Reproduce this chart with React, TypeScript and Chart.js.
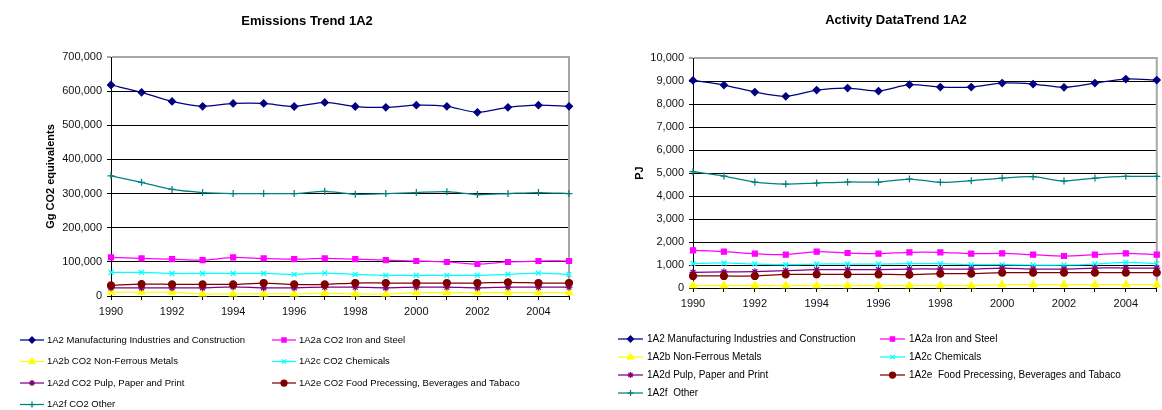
import React, { useEffect, useRef } from 'react';
import { Chart, registerables } from 'chart.js';
import { drawPoint } from 'chart.js/helpers';

Chart.register(...registerables);

const FONT = "'Liberation Sans', Arial, sans-serif";

// ---------- shared categories ----------
const years = ['1990', '1991', '1992', '1993', '1994', '1995', '1996', '1997', '1998', '1999', '2000', '2001', '2002', '2003', '2004', '2005'];

// ---------- Emissions Trend 1A2 (Gg CO2 equivalents) ----------
const emTitle = 'Emissions Trend 1A2';
const emAxisTitle = 'Gg CO2 equivalents';
const emLabels = [
  '1A2 Manufacturing Industries and Construction',
  '1A2a CO2 Iron and Steel',
  '1A2b CO2 Non-Ferrous Metals',
  '1A2c CO2 Chemicals',
  '1A2d CO2 Pulp, Paper and Print',
  '1A2e CO2 Food Precessing, Beverages and Tabaco',
  '1A2f CO2 Other',
];
const emManufacturing = [618000, 596500, 570000, 555500, 564000, 564000, 555000, 567000, 555000, 552500, 559000, 555500, 538000, 552500, 559000, 555500];
const emIronSteel = [113000, 110000, 108000, 105000, 113000, 110000, 108000, 110000, 108000, 105000, 102500, 99600, 93700, 99600, 102500, 102500];
const emNonFerrous = [11000, 11000, 11000, 6000, 6000, 6000, 6000, 8000, 6000, 6000, 10000, 10000, 10000, 10000, 10000, 10000];
const emChemicals = [69000, 69000, 66000, 66000, 66000, 66000, 63500, 67000, 63500, 60500, 60500, 60500, 60500, 63500, 67000, 63500];
const emPulp = [24000, 24000, 24000, 24000, 27000, 24000, 24000, 26000, 26000, 24000, 26000, 26000, 24000, 26000, 26000, 26000];
const emFood = [31000, 35000, 34000, 34000, 34000, 38000, 34000, 34000, 38000, 38000, 38000, 38000, 38000, 40000, 38000, 38000];
const emOther = [352000, 333000, 312000, 303000, 300000, 300000, 300000, 306500, 298000, 300000, 303000, 305500, 297000, 300000, 303000, 300000];
const emMax = 700000;
const emStep = 100000;

// ---------- Activity DataTrend 1A2 (PJ) ----------
const adTitle = 'Activity DataTrend 1A2';
const adAxisTitle = 'PJ';
const adLabels = [
  '1A2 Manufacturing Industries and Construction',
  '1A2a Iron and Steel',
  '1A2b Non-Ferrous Metals',
  '1A2c Chemicals',
  '1A2d Pulp, Paper and Print',
  '1A2e  Food Precessing, Beverages and Tabaco',
  '1A2f  Other',
];
const adManufacturing = [9027, 8825, 8520, 8332, 8607, 8694, 8564, 8839, 8738, 8738, 8911, 8868, 8723, 8911, 9085, 9042];
const adIronSteel = [1637, 1579, 1492, 1449, 1579, 1521, 1492, 1550, 1550, 1492, 1507, 1449, 1391, 1449, 1507, 1449];
const adNonFerrous = [101, 101, 101, 101, 101, 101, 101, 101, 101, 101, 145, 145, 145, 145, 145, 145];
const adChemicals = [1058, 1087, 1043, 1014, 1043, 1043, 1043, 1058, 1058, 1014, 1014, 1000, 1000, 1043, 1116, 1058];
const adPulp = [681, 696, 710, 753, 797, 797, 797, 826, 826, 826, 869, 826, 826, 869, 869, 869];
const adFood = [522, 522, 522, 594, 594, 594, 594, 580, 623, 623, 667, 667, 667, 667, 667, 667];
const adOther = [5057, 4869, 4608, 4521, 4564, 4608, 4608, 4738, 4593, 4666, 4782, 4840, 4651, 4782, 4854, 4854];
const adMax = 10000;
const adStep = 1000;

// ---------- series styles ----------
const seriesColors = ['#000080', '#FF00FF', '#FFFF00', '#00FFFF', '#800080', '#800000', '#008080'];
const seriesMarkers = ['rectRot', 'rect', 'triangle', 'crossRot', 'star', 'circle', 'cross'];
const seriesRadius = [3.5, 3.5, 4, 3.5, 3.5, 3.5, 3.5];

type Layout = {
  canvasWidth: number;
  yAxisWidth: number;
  padRight: number;
  padTop: number;
  xAxisHeight: number;
  yTitlePad: number;
  titleX: number;
  titleY: number;
  legendCols: number[];
  legendRows: number[];
  legendLine: number;
  legendTextGap: number;
  legendFont: number;
};

const titlePlugin = {
  id: 'customTitle',
  afterDraw(chart: any, _args: any, opts: any) {
    const ctx = chart.ctx;
    ctx.save();
    ctx.font = `bold 13px ${FONT}`;
    ctx.fillStyle = '#000';
    ctx.textAlign = 'center';
    ctx.textBaseline = 'middle';
    ctx.fillText(opts.text, opts.x, opts.y);
    ctx.restore();
  },
};

const frameAndLegendPlugin = {
  id: 'frameLegend',
  beforeDatasetsDraw(chart: any) {
    const { ctx, chartArea } = chart;
    ctx.save();
    ctx.strokeStyle = '#a6a6a6';
    ctx.lineWidth = 2;
    ctx.beginPath();
    ctx.moveTo(chartArea.right, chartArea.top - 1);
    ctx.lineTo(chartArea.right, chartArea.bottom);
    ctx.stroke();
    ctx.restore();
  },
  afterDraw(chart: any, _args: any, opts: any) {
    const ctx = chart.ctx;
    ctx.save();
    chart.data.datasets.forEach((ds: any, i: number) => {
      const x0 = opts.cols[i % 2];
      const y = opts.rows[Math.floor(i / 2)];
      ctx.strokeStyle = ds.borderColor;
      ctx.lineWidth = 1.25;
      ctx.beginPath();
      ctx.moveTo(x0, y);
      ctx.lineTo(x0 + opts.line, y);
      ctx.stroke();
      ctx.fillStyle = ds.pointBackgroundColor;
      ctx.strokeStyle = ds.pointBorderColor;
      ctx.lineWidth = 1.25;
      drawPoint(ctx, { pointStyle: ds.pointStyle, rotation: 0, radius: ds.pointRadius - 0.5, borderWidth: 1.25 }, x0 + opts.line / 2, y);
      ctx.fillStyle = '#000';
      ctx.font = `${opts.font}px ${FONT}`;
      ctx.textAlign = 'left';
      ctx.textBaseline = 'middle';
      ctx.fillText(ds.label, x0 + opts.line + opts.gap, y);
    });
    ctx.restore();
  },
};

function TrendChart(props: {
  title: string;
  axisTitle: string;
  labels: string[];
  series: number[][];
  max: number;
  step: number;
  layout: Layout;
  left: number;
}) {
  const ref = useRef<HTMLCanvasElement | null>(null);
  useEffect(() => {
    if (!ref.current) return;
    const L = props.layout;
    const datasets = props.series.map((data, i) => ({
      label: props.labels[i],
      data,
      borderColor: seriesColors[i],
      backgroundColor: seriesColors[i],
      pointBackgroundColor: seriesColors[i],
      pointBorderColor: seriesColors[i],
      pointStyle: seriesMarkers[i],
      pointRadius: seriesRadius[i],
      pointBorderWidth: 1.25,
      borderWidth: 1.25,
      tension: 0.25,
      clip: false as any,
      order: props.series.length - i,
    }));
    const chart = new Chart(ref.current, {
      type: 'line',
      data: { labels: years, datasets },
      plugins: [titlePlugin, frameAndLegendPlugin],
      options: {
        responsive: false,
        animation: false,
        devicePixelRatio: 1,
        layout: { padding: { left: 0, right: L.padRight, top: L.padTop, bottom: 0 } },
        font: { family: FONT },
        plugins: {
          legend: { display: false },
          title: { display: false },
          tooltip: { enabled: false },
          customTitle: { text: props.title, x: L.titleX, y: L.titleY },
          frameLegend: { cols: L.legendCols, rows: L.legendRows, line: L.legendLine, gap: L.legendTextGap, font: L.legendFont },
        } as any,
        scales: {
          x: {
            type: 'category',
            offset: false,
            grid: { display: true, drawOnChartArea: false, drawTicks: true, tickLength: 4, color: '#000' },
            border: { display: true, color: '#000', width: 1 },
            ticks: {
              autoSkip: false,
              maxRotation: 0,
              minRotation: 0,
              padding: 5,
              color: '#111',
              font: { family: FONT, size: 11 },
              callback: function (this: any, val: any, idx: number) {
                return idx % 2 === 0 ? years[idx] : '';
              },
            },
            afterFit: (s: any) => {
              s.height = L.xAxisHeight;
            },
          },
          y: {
            min: 0,
            max: props.max,
            ticks: {
              stepSize: props.step,
              padding: 5,
              color: '#111',
              font: { family: FONT, size: 11 },
              callback: (v: any) => Number(v).toLocaleString('en-US'),
            },
            grid: {
              color: (c: any) => (c.tick && c.tick.value === props.max ? '#a6a6a6' : '#000'),
              lineWidth: (c: any) => (c.tick && c.tick.value === props.max ? 2 : 1),
              tickLength: 4,
            },
            border: { display: true, color: '#000', width: 1 },
            title: {
              display: true,
              text: props.axisTitle,
              color: '#000',
              font: { family: FONT, size: 11, weight: 'bold' },
              padding: { top: L.yTitlePad, bottom: 0 },
            },
            afterFit: (s: any) => {
              s.width = L.yAxisWidth;
            },
          },
        },
      } as any,
    });
    return () => chart.destroy();
  }, []);
  return (
    <canvas
      ref={ref}
      width={props.layout.canvasWidth}
      height={410}
      style={{ position: 'absolute', left: props.left, top: 0, width: props.layout.canvasWidth, height: 410 }}
    />
  );
}

const emLayout: Layout = {
  canvasWidth: 580,
  yAxisWidth: 111,
  padRight: 11,
  padTop: 57,
  xAxisHeight: 114,
  yTitlePad: 44,
  titleX: 307,
  titleY: 21,
  legendCols: [20, 272],
  legendRows: [340, 361.5, 383, 404.5],
  legendLine: 24,
  legendTextGap: 3,
  legendFont: 9.5,
};

const adLayout: Layout = {
  canvasWidth: 582,
  yAxisWidth: 113,
  padRight: 5,
  padTop: 58,
  xAxisHeight: 122,
  yTitlePad: 53,
  titleX: 316,
  titleY: 20,
  legendCols: [38, 300],
  legendRows: [339, 357, 375, 393],
  legendLine: 25,
  legendTextGap: 4,
  legendFont: 10,
};

export default function App() {
  useEffect(() => {
    document.body.style.margin = '0';
  }, []);
  return (
    <div style={{ position: 'relative', width: 1162, height: 410, background: '#fff', overflow: 'hidden' }}>
      <TrendChart
        title={emTitle}
        axisTitle={emAxisTitle}
        labels={emLabels}
        series={[emManufacturing, emIronSteel, emNonFerrous, emChemicals, emPulp, emFood, emOther]}
        max={emMax}
        step={emStep}
        layout={emLayout}
        left={0}
      />
      <TrendChart
        title={adTitle}
        axisTitle={adAxisTitle}
        labels={adLabels}
        series={[adManufacturing, adIronSteel, adNonFerrous, adChemicals, adPulp, adFood, adOther]}
        max={adMax}
        step={adStep}
        layout={adLayout}
        left={580}
      />
    </div>
  );
}
